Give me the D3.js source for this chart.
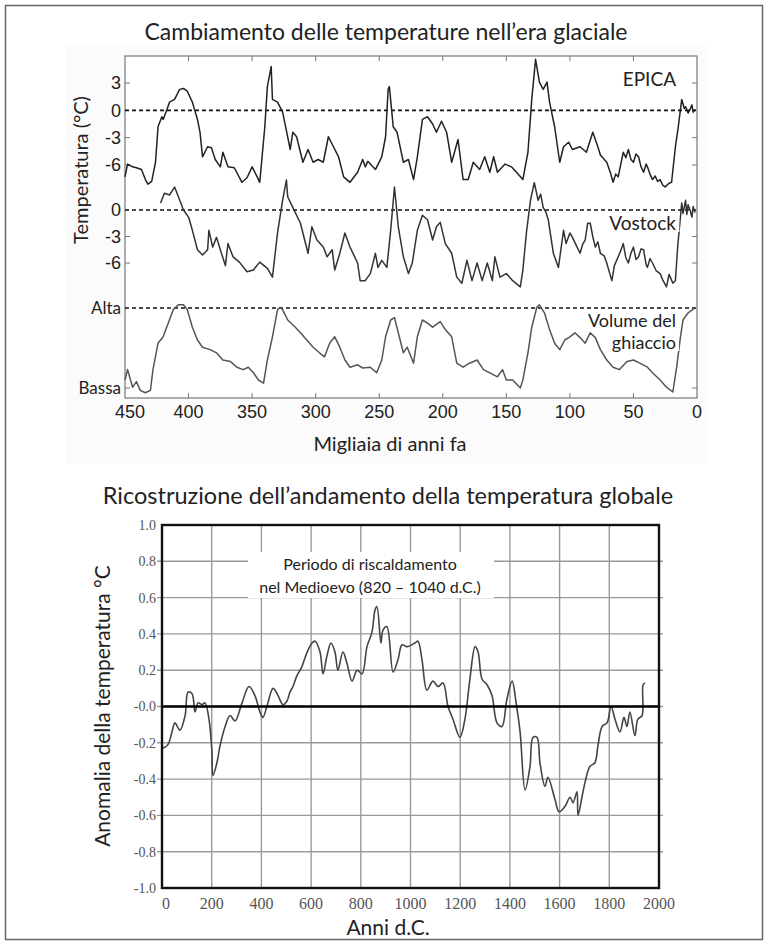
<!DOCTYPE html>
<html>
<head>
<meta charset="utf-8">
<script src="https://cdn.jsdelivr.net/npm/d3@7/dist/d3.min.js"></script>
<style>
    body { margin: 0; background: #fff; }
</style>
</head>
<body>
<div class="js-chart"></div>
<script>
'use strict';

//ice age series, [thousand years ago, temperature °C]
var epica = [
    [450, -7.3], [448, -5.9], [444, -6.2], [441, -6.3], [437, -6.5], [434, -7.6], [432, -8.1], [429, -7.8],
    [426, -5.7], [424, -1.8], [421, -0.7], [420, -1.0], [417, 0.1], [415, 0.9], [411, 1.2], [407, 2.3],
    [404, 2.4], [401, 2.1], [397, 0.9], [393, -1.0], [391, -2.4], [389, -5.1], [385, -4.0], [382, -4.1],
    [379, -5.4], [375, -6.2], [373, -4.6], [369, -6.2], [364, -6.3], [358, -7.9], [354, -7.4], [350, -6.2],
    [346, -7.3], [344, -7.9], [340, -1.8], [338, 2.6], [335, 4.8], [334, 1.2], [330, 0.9], [326, -0.2],
    [320, -4.3], [318, -2.4], [315, -2.9], [312, -4.6], [310, -5.7], [306, -4.3], [302, -5.7], [298, -5.4],
    [294, -5.7], [290, -2.9], [286, -4.0], [282, -5.1], [278, -7.3], [273, -7.9], [267, -6.8], [263, -5.4],
    [261, -6.2], [259, -5.6], [253, -6.5], [248, -5.1], [245, -2.9], [243, 2.3], [242, 2.6], [239, -1.8],
    [236, -2.4], [231, -5.7], [227, -5.4], [223, -7.6], [220, -5.1], [216, -1.0], [212, -0.7], [208, -1.5],
    [205, -2.4], [201, -1.2], [197, -2.4], [193, -5.7], [188, -3.2], [184, -7.6], [180, -7.6], [176, -5.7],
    [171, -6.5], [167, -5.1], [163, -6.8], [160, -5.1], [157, -6.8], [151, -5.9], [146, -6.2], [142, -6.8],
    [137, -7.6], [133, -4.6], [130, 1.2], [127, 5.6], [124, 3.1], [121, 2.3], [118, 3.1], [116, 0.9],
    [112, -1.8], [108, -5.7], [105, -4.0], [101, -3.5], [98, -4.3], [92, -4.0], [87, -4.6], [82, -2.4],
    [78, -4.0], [76, -4.9], [71, -5.7], [68, -6.9], [66, -7.9], [64, -7.0], [62, -7.3], [58, -4.6],
    [56, -5.2], [54, -4.3], [52, -5.4], [50, -5.7], [48, -4.8], [46, -5.1], [44, -6.2], [42, -6.8],
    [40, -5.9], [39, -6.2], [37, -7.0], [35, -7.6], [33, -7.2], [31, -7.8], [29, -7.6], [27, -8.2],
    [25, -8.4], [22, -8.0], [20, -7.9], [17, -4.0], [15, -2.1], [12, 1.2], [10, 0.2], [9, 0.4],
    [7, -0.3], [5.5, 0.1], [4, 0.6], [3, -0.2], [1.5, 0.1]
];
var vostock = [
    [422, 0.8], [419, 1.9], [415, 1.7], [411, 2.6], [408, 1.5], [404, 0], [400, -0.8], [397, -2.3],
    [393, -4.5], [389, -5.1], [385, -4.5], [384, -2.3], [381, -4.2], [378, -3.1], [375, -4.5], [371, -6.3],
    [369, -3.8], [365, -5.3], [360, -5.9], [354, -7.0], [349, -6.8], [344, -5.9], [338, -6.6], [334, -7.6],
    [330, -2.6], [326, 1.1], [323, 3.4], [322, 1.5], [318, 0.3], [312, -1.5], [306, -4.9], [303, -1.9],
    [299, -3.4], [294, -4.2], [291, -5.3], [287, -4.5], [285, -6.8], [281, -4.9], [277, -2.6], [273, -4.2],
    [267, -6.0], [265, -8.0], [261, -8.0], [257, -7.2], [253, -4.9], [251, -6.5], [248, -5.7], [244, -6.5],
    [241, -2.3], [238, 2.6], [235, -1.9], [231, -5.3], [227, -7.2], [224, -6.0], [220, -2.3], [216, -0.6],
    [212, -1.1], [208, -3.4], [205, -1.9], [202, -1.4], [198, -3.8], [193, -4.9], [189, -7.6], [185, -8.3],
    [181, -5.7], [177, -8.0], [173, -6.0], [169, -8.0], [165, -6.0], [161, -8.0], [159, -5.3], [155, -7.6],
    [150, -7.2], [145, -8.0], [139, -8.7], [137, -6.8], [134, -2.3], [131, 1.1], [128, 3.1], [125, 1.1],
    [123, 1.8], [121, 0.3], [119, -0.2], [117, -1.1], [113, -4.9], [109, -6.5], [105, -2.3], [103, -3.8],
    [102, -3.4], [100, -2.6], [98, -3.1], [95, -4.0], [92, -4.9], [90, -3.9], [88, -3.4], [86, -1.5],
    [84, -1.5], [82, -3.0], [80, -4.2], [78, -3.6], [76, -4.9], [73, -5.2], [71, -6.0], [69, -7.0],
    [67, -8.0], [65, -6.3], [62, -5.3], [60, -4.6], [58, -3.8], [56, -5.4], [54, -6.0], [52, -4.9],
    [50, -4.2], [48, -5.6], [46, -5.3], [44, -4.4], [42, -4.5], [40, -6.2], [39, -6.5], [37, -5.5],
    [35, -6.0], [32, -6.9], [29, -7.2], [27, -7.9], [24, -8.7], [22, -7.3], [21, -7.6], [19, -8.3],
    [17, -8.0], [15, -3.8], [12, 0.8], [11, -0.4], [9, 1.1], [8, -0.5], [7, 0.6], [5.5, 0],
    [4, -0.8], [3, 0.4], [1.5, -0.3]
];
//ice volume, 0 = Bassa, 1 = Alta
var iceVolume = [
    [450, 0.1], [448, 0.23], [444, 0.01], [441, 0.08], [438, -0.03], [434, -0.06], [430, -0.03], [428, 0.23],
    [424, 0.56], [420, 0.64], [416, 0.81], [412, 0.98], [408, 1.04], [404, 1.04], [401, 0.98], [397, 0.76],
    [393, 0.6], [389, 0.51], [383, 0.48], [378, 0.44], [373, 0.35], [367, 0.33], [362, 0.26], [357, 0.23],
    [353, 0.26], [349, 0.19], [345, 0.1], [341, 0.06], [338, 0.35], [334, 0.64], [330, 0.98], [328, 1.01],
    [326, 0.98], [322, 0.85], [316, 0.76], [312, 0.69], [307, 0.6], [302, 0.51], [297, 0.44], [293, 0.39],
    [289, 0.56], [285, 0.64], [281, 0.51], [277, 0.35], [273, 0.26], [267, 0.29], [263, 0.25], [257, 0.26],
    [252, 0.19], [248, 0.35], [245, 0.64], [241, 0.85], [238, 0.88], [235, 0.69], [231, 0.44], [228, 0.51],
    [223, 0.31], [220, 0.64], [216, 0.85], [212, 0.81], [208, 0.76], [202, 0.83], [198, 0.73], [193, 0.64],
    [189, 0.31], [184, 0.26], [179, 0.31], [173, 0.35], [168, 0.23], [163, 0.19], [157, 0.14], [153, 0.23],
    [150, 0.1], [145, 0.1], [139, 0], [137, 0.1], [133, 0.44], [130, 0.76], [126, 1.01], [124, 1.04],
    [120, 0.94], [116, 0.73], [112, 0.56], [108, 0.48], [104, 0.6], [100, 0.64], [96, 0.69], [92, 0.63],
    [88, 0.56], [84, 0.69], [80, 0.63], [76, 0.48], [71, 0.35], [66, 0.26], [61, 0.23], [55, 0.33],
    [50, 0.35], [45, 0.31], [39, 0.26], [35, 0.19], [29, 0.1], [24, 0.01], [19, -0.05], [16, 0.26],
    [13, 0.64], [11, 0.85], [7, 0.94], [1.5, 1.0]
];
var kyrTicks = [450, 400, 350, 300, 250, 200, 150, 100, 50, 0];
var epicaTicks = [3, 0, -3, -6];
var vostockTicks = [0, -3, -6];
var iceTickValues = [1, 0];
var iceTickLabels = ['Alta', 'Bassa'];

//global temperature reconstruction, [year AD, anomaly °C]
var globalTemp = [
    [4, -0.23], [24, -0.21], [40, -0.14], [52, -0.09], [72, -0.13], [93, -0.05], [105, 0.08], [121, 0.07],
    [133, -0.03], [145, 0.02], [161, 0.01], [173, 0.02], [189, -0.07], [201, -0.25], [205, -0.38], [221, -0.31],
    [233, -0.22], [254, -0.11], [274, -0.05], [294, -0.08], [322, 0.02], [350, 0.11], [374, 0.06], [394, -0.03],
    [406, -0.06], [422, 0], [447, 0.1], [467, 0.06], [487, 0.01], [503, 0.03], [515, 0.08], [527, 0.11],
    [543, 0.17], [563, 0.22], [584, 0.3], [604, 0.35], [616, 0.36], [636, 0.3], [648, 0.18], [664, 0.28],
    [680, 0.35], [696, 0.3], [708, 0.2], [728, 0.3], [744, 0.24], [765, 0.14], [785, 0.2], [805, 0.18],
    [825, 0.33], [845, 0.41], [857, 0.53], [865, 0.55], [881, 0.35], [889, 0.42], [905, 0.44], [930, 0.19],
    [950, 0.26], [966, 0.34], [986, 0.33], [1018, 0.35], [1030, 0.36], [1046, 0.26], [1066, 0.09], [1090, 0.14],
    [1111, 0.11], [1131, 0.13], [1151, 0], [1171, -0.07], [1199, -0.17], [1219, -0.07], [1239, 0.15], [1260, 0.33],
    [1272, 0.3], [1288, 0.15], [1308, 0.12], [1328, 0.06], [1348, -0.09], [1368, -0.11], [1388, 0.04], [1409, 0.14],
    [1425, 0.02], [1441, -0.14], [1461, -0.46], [1481, -0.33], [1493, -0.17], [1509, -0.17], [1521, -0.31], [1541, -0.44],
    [1553, -0.39], [1581, -0.51], [1598, -0.58], [1622, -0.55], [1642, -0.5], [1654, -0.53], [1670, -0.47], [1674, -0.6],
    [1690, -0.5], [1702, -0.42], [1722, -0.33], [1742, -0.31], [1754, -0.22], [1771, -0.11], [1791, -0.09], [1807, 0],
    [1823, -0.07], [1843, -0.14], [1859, -0.06], [1871, -0.11], [1883, -0.03], [1903, -0.16], [1915, -0.07], [1932, -0.05],
    [1936, 0.12], [1944, 0.13]
];
var yearTicks = [0, 200, 400, 600, 800, 1000, 1200, 1400, 1600, 1800, 2000];
var anomalyTicks = [1.0, 0.8, 0.6, 0.4, 0.2, 0, -0.2, -0.4, -0.6, -0.8, -1.0];
var anomalyLabels = ['1.0', '0.8', '0.6', '0.4', '0.2', '-0.0', '-0.2', '-0.4', '-0.6', '-0.8', '-1.0'];

var sans = 'Lato, "Open Sans", sans-serif';
var arial = '"Liberation Sans", Arial, sans-serif';
var serif = '"Liberation Serif", "Times New Roman", serif';

var svg = d3.select('.js-chart').append('svg')
    .attr('width', 769)
    .attr('height', 945);

//outer frame of the whole picture
svg.append('rect')
    .attr('x', 5.5).attr('y', 5.5)
    .attr('width', 757).attr('height', 934)
    .style('fill', 'none')
    .style('stroke', '#666')
    .style('stroke-width', 1.5);

//text with a white box behind it
function boxedText(g, x, y, str, size) {
    var t = g.append('text')
        .attr('x', x).attr('y', y)
        .attr('text-anchor', 'end')
        .style('font-family', sans)
        .style('font-size', size + 'px')
        .style('fill', '#222')
        .text(str);
    var b = t.node().getBBox();
    g.insert('rect', function () { return t.node(); })
        .attr('x', b.x - 3).attr('y', b.y + 2)
        .attr('width', b.width + 6).attr('height', b.height - 4)
        .style('fill', '#fff');
    return t;
}

/****
// ice age chart
****/
function drawIceAge() {
    var g = svg.append('g');
    var x = d3.scaleLinear().domain([450, 0]).range([125, 697]);
    var yE = d3.scaleLinear().domain([-6, 3]).range([165, 83]);
    var yV = d3.scaleLinear().domain([-6, 0]).range([263, 210]);
    var yI = d3.scaleLinear().domain([0, 1]).range([388, 308]);
    var top = 56, bottom = 398;

    g.append('rect')
        .attr('x', 66).attr('y', 46)
        .attr('width', 642).attr('height', 418)
        .style('fill', '#fbfbfb');

    g.append('text')
        .attr('x', 386).attr('y', 40)
        .attr('text-anchor', 'middle')
        .style('font-family', sans)
        .style('font-size', '23px')
        .style('fill', '#222')
        .text('Cambiamento delle temperature nell’era glaciale');

    g.append('rect')
        .attr('x', 125).attr('y', top)
        .attr('width', 572).attr('height', bottom - top)
        .style('fill', '#fff')
        .style('stroke', '#777')
        .style('stroke-width', 1.2);

    //inner ticks, top and bottom
    var inner = kyrTicks.slice(1, -1);
    g.selectAll('.js-xt').data(inner).enter().append('path')
        .attr('class', 'js-xt')
        .attr('d', function (d) {
            return 'M' + x(d) + ',' + bottom + 'v-5M' + x(d) + ',' + top + 'v5';
        })
        .style('stroke', '#777');

    //inner ticks, left and right
    var yTicks = epicaTicks.filter(function (d) { return d !== 0; }).map(yE)
        .concat(vostockTicks.filter(function (d) { return d !== 0; }).map(yV))
        .concat([yI(0)]);
    g.selectAll('.js-yt').data(yTicks).enter().append('path')
        .attr('class', 'js-yt')
        .attr('d', function (d) { return 'M125,' + d + 'h5M697,' + d + 'h-5'; })
        .style('stroke', '#777');

    //dashed reference lines
    g.selectAll('.js-ref').data([yE(0), yV(0), yI(1)]).enter().append('line')
        .attr('class', 'js-ref')
        .attr('x1', 125).attr('x2', 697)
        .attr('y1', function (d) { return d; })
        .attr('y2', function (d) { return d; })
        .style('stroke', '#111')
        .style('stroke-width', 1.6)
        .style('stroke-dasharray', '4,3');

    function series(data, y, color, width) {
        g.append('path')
            .datum(data)
            .attr('d', d3.line().x(function (d) { return x(d[0]); }).y(function (d) { return y(d[1]); }))
            .style('fill', 'none')
            .style('stroke', color)
            .style('stroke-width', width)
            .style('stroke-linejoin', 'round');
    }
    series(iceVolume, yI, '#555', 1.5);
    series(vostock, yV, '#333', 1.5);
    series(epica, yE, '#222', 1.5);

    boxedText(g, 676, 86, 'EPICA', 19);
    boxedText(g, 676, 230, 'Vostock', 19);
    boxedText(g, 676, 327, 'Volume del', 18);
    boxedText(g, 676, 349, 'ghiaccio', 18);

    //left labels
    function leftLabels(ticks, labels, y, font, size) {
        g.selectAll(null).data(ticks).enter().append('text')
            .attr('x', 121)
            .attr('y', function (d) { return y(d); })
            .attr('dy', '0.36em')
            .attr('text-anchor', 'end')
            .style('font-family', font)
            .style('font-size', size + 'px')
            .style('fill', '#222')
            .text(function (d, i) { return labels ? labels[i] : d; });
    }
    leftLabels(epicaTicks, null, yE, arial, 18);
    leftLabels(vostockTicks, null, yV, arial, 18);
    leftLabels(iceTickValues, iceTickLabels, yI, sans, 17);

    g.selectAll('.js-xl').data(kyrTicks).enter().append('text')
        .attr('class', 'js-xl')
        .attr('x', function (d) { return x(d) + (d === 450 ? 5 : 0); })
        .attr('y', 418)
        .attr('text-anchor', 'middle')
        .style('font-family', arial)
        .style('font-size', '18px')
        .style('fill', '#222')
        .text(function (d) { return d; });

    g.append('text')
        .attr('x', 390).attr('y', 451)
        .attr('text-anchor', 'middle')
        .style('font-family', sans)
        .style('font-size', '20px')
        .style('fill', '#222')
        .text('Migliaia di anni fa');

    g.append('text')
        .attr('transform', 'translate(88,170) rotate(-90)')
        .attr('text-anchor', 'middle')
        .style('font-family', sans)
        .style('font-size', '20px')
        .style('fill', '#222')
        .text('Temperatura (°C)');
}

/****
// global temperature reconstruction
****/
function drawGlobal() {
    var g = svg.append('g');
    var x = d3.scaleLinear().domain([0, 2000]).range([162, 659]);
    var y = d3.scaleLinear().domain([-1, 1]).range([888, 525]);

    g.append('text')
        .attr('x', 388).attr('y', 504)
        .attr('text-anchor', 'middle')
        .style('font-family', sans)
        .style('font-size', '23.5px')
        .style('fill', '#222')
        .text('Ricostruzione dell’andamento della temperatura globale');

    //grid
    g.selectAll('.js-vg').data(yearTicks.slice(1, -1)).enter().append('line')
        .attr('class', 'js-vg')
        .attr('x1', x).attr('x2', x)
        .attr('y1', y(1)).attr('y2', y(-1))
        .style('stroke', '#999')
        .style('stroke-width', 1.4);
    g.selectAll('.js-hg').data(anomalyTicks.slice(1, -1)).enter().append('line')
        .attr('class', 'js-hg')
        .attr('x1', x(0) - 5).attr('x2', x(2000) + 4)
        .attr('y1', y).attr('y2', y)
        .style('stroke', '#999')
        .style('stroke-width', 1.4);

    //annotation box
    g.append('rect')
        .attr('x', 248).attr('y', 552)
        .attr('width', 246).attr('height', 46)
        .style('fill', '#fff');
    g.selectAll('.js-note').data(['Periodo di riscaldamento', 'nel Medioevo (820 – 1040 d.C.)'])
        .enter().append('text')
        .attr('class', 'js-note')
        .attr('x', 370)
        .attr('y', function (d, i) { return 570 + i * 23; })
        .attr('text-anchor', 'middle')
        .style('font-family', sans)
        .style('font-size', '16px')
        .style('fill', '#222')
        .text(function (d) { return d; });

    g.append('path')
        .datum(globalTemp)
        .attr('d', d3.line()
            .curve(d3.curveCatmullRom)
            .x(function (d) { return x(d[0]); })
            .y(function (d) { return y(d[1]); }))
        .style('fill', 'none')
        .style('stroke', '#444')
        .style('stroke-width', 1.6);

    //zero line and frame
    g.append('line')
        .attr('x1', x(0)).attr('x2', x(2000))
        .attr('y1', y(0)).attr('y2', y(0))
        .style('stroke', '#000')
        .style('stroke-width', 2.6);
    g.append('rect')
        .attr('x', x(0)).attr('y', y(1))
        .attr('width', x(2000) - x(0)).attr('height', y(-1) - y(1))
        .style('fill', 'none')
        .style('stroke', '#111')
        .style('stroke-width', 2.4);

    g.selectAll('.js-yl').data(anomalyTicks).enter().append('text')
        .attr('class', 'js-yl')
        .attr('x', 156)
        .attr('y', y)
        .attr('dy', '0.35em')
        .attr('text-anchor', 'end')
        .style('font-family', serif)
        .style('font-size', '14px')
        .style('fill', '#555')
        .text(function (d, i) { return anomalyLabels[i]; });

    g.selectAll('.js-xl2').data(yearTicks).enter().append('text')
        .attr('class', 'js-xl2')
        .attr('x', function (d) { return x(d) + (d === 0 ? 4 : 0); })
        .attr('y', 909)
        .attr('text-anchor', 'middle')
        .style('font-family', serif)
        .style('font-size', '16px')
        .style('fill', '#555')
        .text(function (d) { return d; });

    g.append('text')
        .attr('x', 388).attr('y', 935)
        .attr('text-anchor', 'middle')
        .style('font-family', sans)
        .style('font-size', '21px')
        .style('fill', '#222')
        .text('Anni d.C.');

    g.append('text')
        .attr('transform', 'translate(110,706) rotate(-90)')
        .attr('text-anchor', 'middle')
        .style('font-family', sans)
        .style('font-size', '21px')
        .style('fill', '#222')
        .text('Anomalia della temperatura °C');
}

drawIceAge();
drawGlobal();
</script>
</body>
</html>
